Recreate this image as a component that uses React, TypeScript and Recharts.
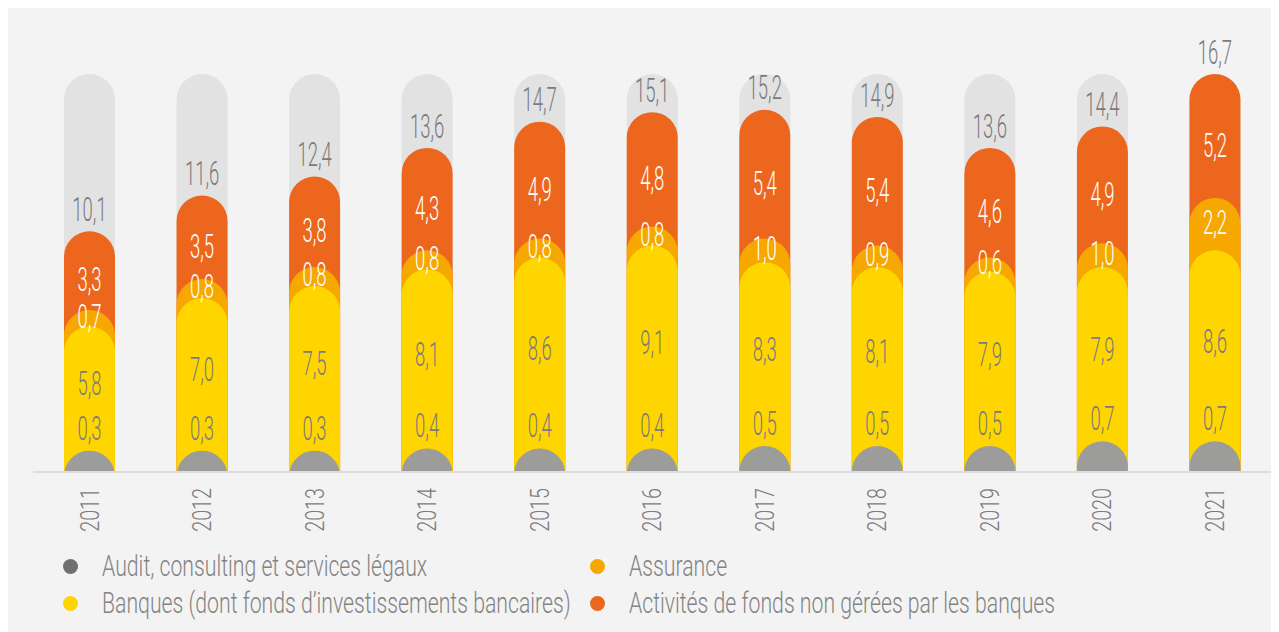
import { BarChart, Bar, XAxis, YAxis, LabelList } from 'recharts'

const years = ['2011', '2012', '2013', '2014', '2015', '2016', '2017', '2018', '2019', '2020', '2021']
const audit = [0.3, 0.3, 0.3, 0.4, 0.4, 0.4, 0.5, 0.5, 0.5, 0.7, 0.7]
const banques = [5.8, 7.0, 7.5, 8.1, 8.6, 9.1, 8.3, 8.1, 7.9, 7.9, 8.6]
const assurance = [0.7, 0.8, 0.8, 0.8, 0.8, 0.8, 1.0, 0.9, 0.6, 1.0, 2.2]
const fonds = [3.3, 3.5, 3.8, 4.3, 4.9, 4.8, 5.4, 5.4, 4.6, 4.9, 5.2]
const totals = [10.1, 11.6, 12.4, 13.6, 14.7, 15.1, 15.2, 14.9, 13.6, 14.4, 16.7]

const seriesNames = [
  'Audit, consulting et services légaux',
  'Assurance',
  'Banques (dont fonds d’investissements bancaires)',
  'Activités de fonds non gérées par les banques',
]

const COLORS = {
  audit: '#9c9c9a',
  auditDot: '#707070',
  banques: '#ffd500',
  assurance: '#f6a800',
  fonds: '#ec671d',
  bg: '#e2e2e2',
  text: '#7b7b7b',
}

const round1 = (v: number) => Math.round(v * 10) / 10
const cumBanques = audit.map((v, i) => round1(v + banques[i]))
const cumAssurance = cumBanques.map((v, i) => round1(v + assurance[i]))
const cumFonds = cumAssurance.map((v, i) => round1(v + fonds[i]))
const maxTotal = Math.max(...cumFonds)

const data = years.map((year, i) => ({
  year,
  bg: maxTotal,
  fonds: cumFonds[i],
  assurance: cumAssurance[i],
  banques: cumBanques[i],
  audit: audit[i],
}))

const fmt = (v: number) => v.toFixed(1).replace('.', ',')

// rounded-top column, falls back to a circle segment when shorter than its radius
function pillPath(x: number, w: number, top: number, base: number) {
  const r = w / 2
  const h = base - top
  if (h <= 0) return ''
  if (h >= r) {
    return `M${x},${base} L${x},${top + r} A${r},${r} 0 0 1 ${x + w},${top + r} L${x + w},${base} Z`
  }
  const d = r - h
  const hw = Math.sqrt(r * r - d * d)
  const cx = x + r
  return `M${cx - hw},${base} A${r},${r} 0 0 1 ${cx + hw},${base} Z`
}

const pill = (lift = 0) => (props: any) => {
  const { x, y, width, height, fill } = props
  return <path d={pillPath(x, width, y - lift, y + height)} fill={fill} />
}

const LABEL_SIZE = 33
const LABEL_SX = 0.56

function Condensed({ cx, cy, text, fill }: { cx: number; cy: number; text: string; fill: string }) {
  return (
    <g transform={`translate(${cx},${cy}) scale(${LABEL_SX},1)`}>
      <text
        x={0}
        y={LABEL_SIZE * 0.355}
        textAnchor="middle"
        fontSize={LABEL_SIZE}
        fontWeight={300}
        fill={fill}
        fontFamily="Roboto"
      >
        {text}
      </text>
    </g>
  )
}

// label in the middle of a cumulative column's own segment
const segmentLabel = (values: number[], fill: string, shift = 0) => (props: any) => {
  const { x, y, width, height, index } = props
  const cum = props.value as number
  const seg = (height * values[index]) / cum
  return <Condensed cx={x + width / 2} cy={y + seg / 2 + shift} text={fmt(values[index])} fill={fill} />
}

const totalLabel = (props: any) => {
  const { x, y, width, index } = props
  return <Condensed cx={x + width / 2} cy={y - 22} text={fmt(totals[index])} fill={COLORS.text} />
}

const auditLabel = (props: any) => {
  const { x, y, width, index } = props
  return <Condensed cx={x + width / 2} cy={y - 37} text={fmt(audit[index])} fill={COLORS.text} />
}

const YearTick = (props: any) => {
  const { x, y, payload } = props
  const size = 26
  return (
    <g transform={`translate(${x},${y + 8}) rotate(-90) scale(0.76,1)`}>
      <text
        x={0}
        y={size * 0.355}
        textAnchor="end"
        fontSize={size}
        fontWeight={300}
        fill={COLORS.text}
        fontFamily="Roboto"
      >
        {payload.value}
      </text>
    </g>
  )
}

const legendItems = [
  { name: seriesNames[0], color: COLORS.auditDot },
  { name: seriesNames[1], color: COLORS.assurance },
  { name: seriesNames[2], color: COLORS.banques },
  { name: seriesNames[3], color: COLORS.fonds },
]

function ChartLegend() {
  return (
    <div
      style={{
        position: 'absolute',
        left: 55,
        top: 540,
        display: 'grid',
        gridTemplateColumns: '527px 600px',
        gridAutoRows: '37px',
      }}
    >
      {legendItems.map((item) => (
        <div key={item.name} style={{ display: 'flex', alignItems: 'center' }}>
          <span
            style={{ width: 15, height: 15, borderRadius: '50%', background: item.color, marginRight: 24, flex: 'none' }}
          />
          <span
            style={{
              display: 'inline-block',
              whiteSpace: 'nowrap',
              fontFamily: 'Roboto',
              fontWeight: 300,
              fontSize: 29,
              lineHeight: '37px',
              color: '#838383',
              transform: 'scaleX(0.732)',
              transformOrigin: 'left center',
            }}
          >
            {item.name}
          </span>
        </div>
      ))}
    </div>
  )
}

export default function App() {
  return (
    <div style={{ position: 'relative', width: 1271, height: 624, background: '#f3f3f3', overflow: 'hidden' }}>
      <BarChart
        width={1271}
        height={624}
        data={data}
        margin={{ top: 66, right: 8, left: 25, bottom: 100 }}
        barSize={51}
        barGap={-51}
      >
        <XAxis
          dataKey="year"
          height={60}
          tickLine={false}
          axisLine={{ stroke: '#dcdcdc', strokeWidth: 2 }}
          tick={<YearTick />}
          interval={0}
        />
        <YAxis hide domain={[0, maxTotal]} />
        <Bar dataKey="bg" fill={COLORS.bg} shape={pill()} isAnimationActive={false} />
        <Bar dataKey="fonds" fill={COLORS.fonds} shape={pill()} isAnimationActive={false}>
          <LabelList dataKey="fonds" content={totalLabel} />
          <LabelList dataKey="fonds" content={segmentLabel(fonds, '#ffffff', 9)} />
        </Bar>
        <Bar dataKey="assurance" fill={COLORS.assurance} shape={pill()} isAnimationActive={false}>
          <LabelList dataKey="assurance" content={segmentLabel(assurance, '#ffffff', -2)} />
        </Bar>
        <Bar dataKey="banques" fill={COLORS.banques} shape={pill()} isAnimationActive={false}>
          <LabelList dataKey="banques" content={segmentLabel(banques, COLORS.text, -12)} />
        </Bar>
        <Bar dataKey="audit" fill={COLORS.audit} shape={pill(14)} isAnimationActive={false}>
          <LabelList dataKey="audit" content={auditLabel} />
        </Bar>
      </BarChart>
      <ChartLegend />
    </div>
  )
}
